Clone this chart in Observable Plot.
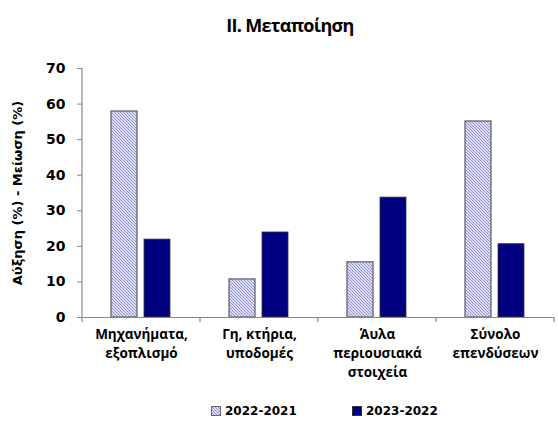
<!DOCTYPE html>
<html>
<head>
<meta charset="utf-8">
<script src="https://cdn.jsdelivr.net/npm/d3@7"></script>
<script src="https://cdn.jsdelivr.net/npm/@observablehq/plot@0.6"></script>
<style>
  html, body { margin: 0; padding: 0; background: #fff; }
  #wrap { width: 558px; height: 429px; position: relative; font-family: "DejaVu Sans", sans-serif; }
  #title { position: absolute; top: 13px; left: 0; width: 580px; text-align: center;
           font-family: "Open Sans", sans-serif; font-weight: 700; font-size: 18px; color: #000; letter-spacing: -0.7px; }
  #chart { position: absolute; top: 50px; left: 0; }
  #legend { position: absolute; top: 404px; left: 0; width: 558px; font-family: "DejaVu Sans", sans-serif;
            font-weight: 700; font-size: 12px; color: #000; }
  .item { position: absolute; display: flex; align-items: center; }
  .item svg { margin-right: 4px; }
</style>
</head>
<body>
<div id="wrap">
  <div id="title">II. Μεταποίηση</div>
  <div id="chart"></div>
  <div id="legend"></div>
</div>
<script>
const categories = ["Μηχανήματα,\nεξοπλισμό", "Γη, κτήρια,\nυποδομές", "Άυλα\nπεριουσιακά\nστοιχεία", "Σύνολο\nεπενδύσεων"];
const series = ["2022-2021", "2023-2022"];
const values2022_2021 = [57.9, 10.7, 15.5, 55.1];
const values2023_2022 = [21.9, 23.9, 33.7, 20.6];
const yTicks = [0, 10, 20, 30, 40, 50, 60, 70];
const yLabel = "Αύξηση (%) - Μείωση (%)";

const data = [];
categories.forEach((c, i) => {
  data.push({cat: c, series: series[0], value: values2022_2021[i]});
  data.push({cat: c, series: series[1], value: values2023_2022[i]});
});

const plot = Plot.plot({
  width: 558,
  height: 340,
  marginLeft: 81,
  marginRight: 3,
  marginTop: 18,
  marginBottom: 73,
  style: {fontFamily: "DejaVu Sans, sans-serif", color: "#000", background: "#fff"},
  fx: {domain: categories, padding: 0, label: null},
  x: {domain: series, paddingInner: 0.206, paddingOuter: 0.846, axis: null},
  y: {domain: [0, 70], label: null},
  marks: [
    Plot.barY(data.filter(d => d.series === series[0]), {fx: "cat", x: "series", y: "value", fill: "url(#hatch)", stroke: "#666", strokeWidth: 1.3}),
    Plot.barY(data.filter(d => d.series === series[1]), {fx: "cat", x: "series", y: "value", fill: "#000080", stroke: "#333", strokeWidth: 0.8}),
    Plot.ruleY([0], {stroke: "#888", strokeWidth: 1.2}),
    Plot.axisY({ticks: yTicks, tickSize: 5, tickPadding: 12, fontSize: 14, fontWeight: "bold", stroke: "#888",
                label: yLabel, labelAnchor: "center", labelArrow: "none", labelOffset: 70}),
    Plot.axisFx({anchor: "bottom", tickSize: 0, tickPadding: 8, fontSize: 13.5, lineHeight: 1.4, label: null,
                 fontFamily: "Open Sans, sans-serif", fontWeight: "bold"})
  ]
});

const svg = d3.select(plot);
// hatch pattern
const defs = svg.insert("defs", ":first-child");
const pat = defs.append("pattern").attr("id", "hatch").attr("patternUnits", "userSpaceOnUse")
  .attr("width", 3).attr("height", 3);
pat.append("rect").attr("width", 3).attr("height", 3).attr("fill", "#dcdcf6");
pat.append("path").attr("d", "M0,0 L3,3 M-1,2 L1,4 M2,-1 L4,1").attr("stroke", "#8a8ad6").attr("stroke-width", 0.9);

// y label styling
svg.selectAll("g[aria-label='y-axis label'] text").attr("font-size", 13).attr("font-weight", "bold");

// y axis line and category boundary ticks, derived from the scales
const fx = plot.scale("fx");
const y = plot.scale("y");
const y0 = y.apply(0), yTop = y.apply(70);
const left = fx.apply(categories[0]);
const g = svg.append("g").attr("stroke", "#888").attr("stroke-width", 1.2);
g.append("line").attr("x1", left).attr("x2", left).attr("y1", yTop).attr("y2", y0);
const bounds = categories.map(c => fx.apply(c)).concat([fx.apply(categories[categories.length - 1]) + fx.bandwidth]);
bounds.forEach(b => g.append("line").attr("x1", b).attr("x2", b).attr("y1", y0).attr("y2", y0 + 5));

document.getElementById("chart").appendChild(plot);

// legend
const leg = document.getElementById("legend");
const fills = ["url(#hatch)", "#000080"];
const strokes = ["#666", "#333"];
const lefts = [211, 352];
series.forEach((s, i) => {
  const it = document.createElement("div");
  it.className = "item";
  it.style.left = lefts[i] + "px";
  it.innerHTML = `<svg width="10" height="10"><rect x="0.5" y="0.5" width="9" height="9" fill="${fills[i]}" stroke="${strokes[i]}"/></svg><span>${s}</span>`;
  leg.appendChild(it);
});
</script>
</body>
</html>
